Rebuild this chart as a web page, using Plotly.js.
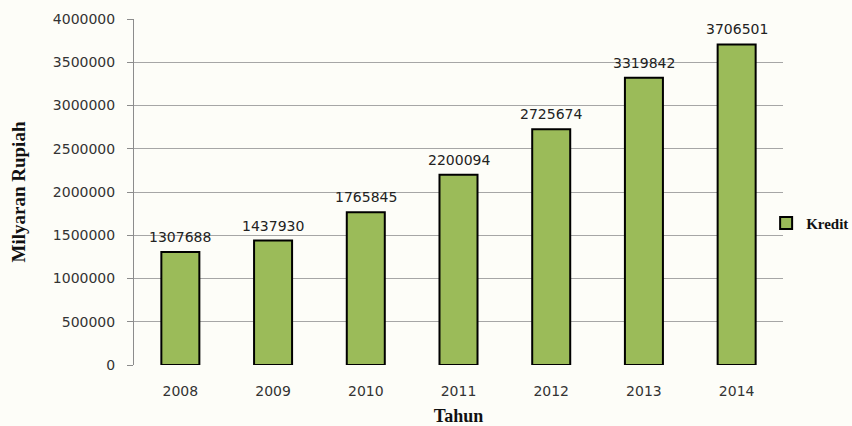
<!DOCTYPE html>
<html>
<head>
<meta charset="utf-8">
<script src="https://cdn.plot.ly/plotly-3.0.1.min.js"></script>
<style>html,body{margin:0;padding:0;background:#fdfdf8;}</style>
</head>
<body>
<div id="chart" style="width:852px;height:426px;"></div>
<script>
const years = ["2008","2009","2010","2011","2012","2013","2014"];
const kredit = [1307688, 1437930, 1765845, 2200094, 2725674, 3319842, 3706501];
const yTicks = [0, 500000, 1000000, 1500000, 2000000, 2500000, 3000000, 3500000, 4000000];
const yTickText = yTicks.map(v => String(v));

const trace = {
  type: "bar",
  name: "Kredit",
  x: years,
  y: kredit,
  marker: {color: "#9bbb59", line: {color: "#000000", width: 2}},
  hoverinfo: "none"
};

// category axis: annotations positioned by category index
const labelAnnotations = years.map((yr, i) => ({
  x: i, y: kredit[i], xref: "x", yref: "y",
  text: String(kredit[i]),
  showarrow: false,
  yanchor: "bottom",
  yshift: 5,
  font: {family: "DejaVu Sans, Verdana, sans-serif", size: 14, color: "#222222"}
}));

const layout = {
  width: 852, height: 426,
  paper_bgcolor: "#fdfdf8",
  plot_bgcolor: "rgba(0,0,0,0)",
  margin: {l: 134, r: 69, t: 19, b: 61, autoexpand: false},
  bargap: 0.59,
  showlegend: true,
  legend: {
    x: 0.974, xanchor: "left", y: 0.41, yanchor: "middle",
    font: {family: "Liberation Serif, Times New Roman, serif", size: 15, color: "#111111", weight: "bold"},
    bgcolor: "rgba(0,0,0,0)", itemwidth: 30
  },
  annotations: labelAnnotations,
  xaxis: {
    type: "category",
    range: [-0.5, years.length - 0.5],
    showgrid: false,
    showline: false,
    ticks: "",
    ticklabelstandoff: 16,
    tickfont: {family: "DejaVu Sans, Verdana, sans-serif", size: 14, color: "#333333"},
    title: {text: "Tahun", standoff: 31, font: {family: "Liberation Serif, Times New Roman, serif", size: 18, color: "#111111", weight: "bold"}}
  },
  yaxis: {
    range: [0, 4000000],
    tickvals: yTicks,
    ticktext: yTickText,
    showgrid: true,
    gridcolor: "#a6a6a6",
    gridwidth: 1,
    showline: true,
    linecolor: "#8c8c8c",
    linewidth: 1,
    ticks: "outside",
    ticklen: 6,
    tickcolor: "#8c8c8c",
    ticklabelstandoff: 9,
    zeroline: false,
    tickfont: {family: "DejaVu Sans, Verdana, sans-serif", size: 14, color: "#333333"},
    title: {text: "Milyaran Rupiah", standoff: 22, font: {family: "Liberation Serif, Times New Roman, serif", size: 19, color: "#111111", weight: "bold"}}
  }
};

Plotly.newPlot("chart", [trace], layout, {displayModeBar: false, staticPlot: true});
</script>
</body>
</html>
